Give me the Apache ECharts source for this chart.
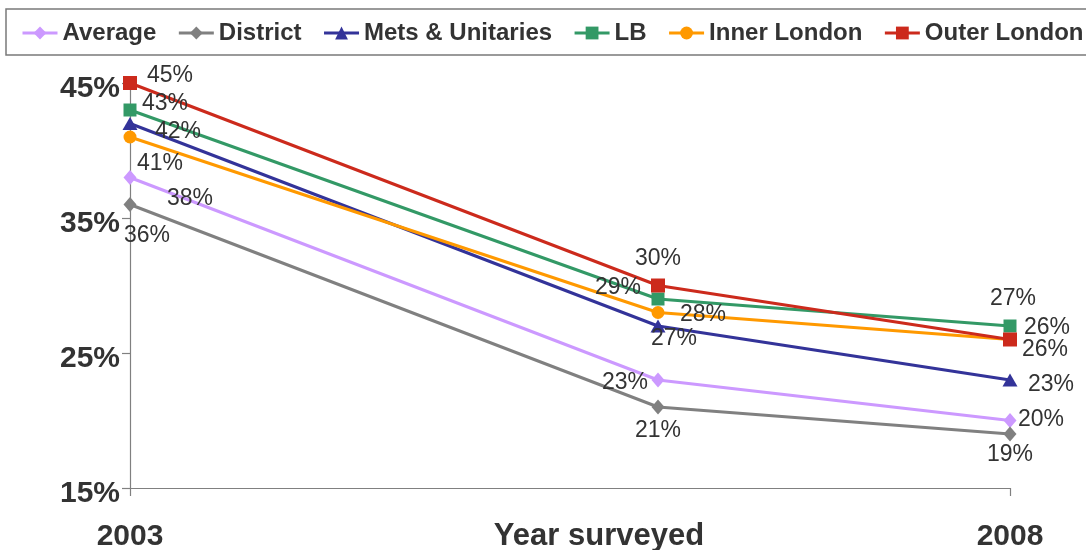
<!DOCTYPE html>
<html>
<head>
<meta charset="utf-8">
<script src="https://cdn.jsdelivr.net/npm/echarts@6/dist/echarts.min.js"></script>
<style>
  html, body { margin: 0; padding: 0; background: #fff; }
  #chart { width: 1086px; height: 550px; }
</style>
</head>
<body>
<div id="chart"></div>
<script>
// Survey years and percentages per authority type
const years = [2003, 2006, 2008];
const average = [38, 23, 20];
const district = [36, 21, 19];
const metsUnitaries = [42, 27, 23];
const lb = [43, 29, 27];
const innerLondon = [41, 28, 26];
const outerLondon = [45, 30, 26];
const yTicks = [15, 25, 35, 45];

// Hand-placed label nudges (px) so the value labels don't collide
const labelNudges = {
  'Average':           [[60, 21], [-33, 3], [31, -1]],
  'District':          [[17, 31], [0, 24], [0, 21]],
  'Mets & Unitaries':  [[48, 8], [16, 13], [41, 5]],
  'LB':                [[35, -6], [-40, -11], [3, -27]],
  'Inner London':      [[30, 27], [45, 2], [37, -12]],
  'Outer London':      [[40, -7], [0, -27], [35, 10]]
};

const seriesDefs = [
  { name: 'Average', values: average, color: '#CC99FF', symbol: 'diamond', size: [13, 15] },
  { name: 'District', values: district, color: '#808080', symbol: 'diamond', size: [13, 15] },
  { name: 'Mets & Unitaries', values: metsUnitaries, color: '#333399', symbol: 'triangle', size: [15, 13] },
  { name: 'LB', values: lb, color: '#339966', symbol: 'rect', size: 13 },
  { name: 'Inner London', values: innerLondon, color: '#FF9900', symbol: 'circle', size: 13 },
  { name: 'Outer London', values: outerLondon, color: '#CC2A1C', symbol: 'rect', size: 14 }
];

const series = seriesDefs.map(d => ({
  name: d.name,
  type: 'line',
  symbol: d.symbol,
  symbolSize: d.size,
  showAllSymbol: true,
  clip: false,
  color: d.color,
  lineStyle: { color: d.color, width: 3 },
  itemStyle: { color: d.color },
  label: {
    show: true,
    position: 'inside',
    color: '#333',
    fontFamily: 'Liberation Sans, Arial, sans-serif',
    fontSize: 23,
    formatter: p => p.value[1] + '%'
  },
  data: years.map((y, i) => ({
    value: [y, d.values[i]],
    label: { offset: labelNudges[d.name][i] }
  }))
}));

const chart = echarts.init(document.getElementById('chart'), null, { renderer: 'canvas' });
chart.setOption({
  animation: false,
  backgroundColor: '#fff',
  textStyle: { fontFamily: 'Liberation Sans, Arial, sans-serif' },
  graphic: [{
    type: 'rect',
    shape: { x: 6, y: 9, width: 1100, height: 46 },
    style: { fill: 'none', stroke: '#7a7a7a', lineWidth: 1.5 },
    z: 0
  }],
  legend: {
    left: 21,
    top: 21,
    width: 1080,
    padding: 0,
    itemWidth: 35,
    itemHeight: 16,
    itemGap: 21,
    lineStyle: { width: 3 },
    textStyle: {
      color: '#333',
      fontWeight: 'bold',
      fontSize: 24,
      fontFamily: 'Liberation Sans, Arial, sans-serif'
    },
    data: seriesDefs.map(d => d.name)
  },
  grid: { left: 130, right: 76, top: 83, bottom: 62, containLabel: false, outerBoundsMode: 'none' },
  xAxis: {
    type: 'value',
    min: 2003,
    max: 2008,
    interval: 5,
    name: 'Year surveyed',
    nameLocation: 'middle',
    nameGap: 33,
    nameMoveOverlap: false,
    nameTextStyle: {
      color: '#333',
      fontWeight: 'bold',
      fontSize: 31,
      padding: [0, 0, 0, 58],
      verticalAlign: 'top'
    },
    axisLine: { lineStyle: { color: '#808080', width: 1.2 } },
    axisTick: { show: true, length: 8, lineStyle: { color: '#808080', width: 1.2 } },
    axisLabel: {
      color: '#333',
      fontWeight: 'bold',
      fontSize: 30,
      margin: 34,
      formatter: v => String(v)
    },
    splitLine: { show: false }
  },
  yAxis: {
    type: 'value',
    min: yTicks[0],
    max: yTicks[yTicks.length - 1],
    interval: 10,
    axisLine: { show: true, lineStyle: { color: '#808080', width: 1.2 } },
    axisTick: { show: true, length: 8, lineStyle: { color: '#808080', width: 1.2 } },
    axisLabel: {
      color: '#333',
      fontWeight: 'bold',
      fontSize: 30,
      margin: 10,
      verticalAlign: 'top',
      lineHeight: 12,
      formatter: v => v + '%'
    },
    splitLine: { show: false }
  },
  series: series
});
</script>
</body>
</html>
